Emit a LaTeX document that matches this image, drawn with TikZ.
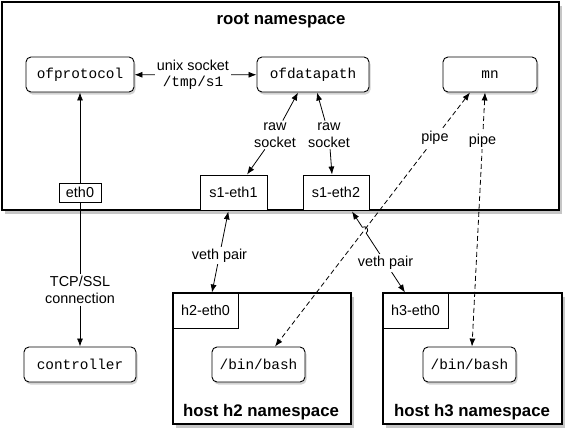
\documentclass[tikz,border=0pt]{standalone}
\usepackage{fontspec}
\setmainfont{Liberation Sans}
\setmonofont{Liberation Mono}
\usetikzlibrary{arrows.meta,shadows,calc}

\begin{document}
\begin{tikzpicture}[x=1pt,y=-1pt,
    >={Latex[length=8pt,width=6pt]},
    every node/.style={font=\fontsize{14.4}{16.5}\selectfont},
    proc/.style={draw,line width=0.9pt,rounded corners=5pt,fill=white,inner sep=0pt,minimum height=35pt,
      font=\ttfamily\fontsize{14.4}{16.5}\selectfont,
      drop shadow={shadow xshift=1.5pt,shadow yshift=-2.5pt,opacity=.35}},
    iface/.style={draw,line width=0.9pt,fill=white,inner sep=0pt,minimum height=35pt},
    nsbox/.style={draw,line width=1.6pt,fill=white,inner sep=0pt,
      drop shadow={shadow xshift=3pt,shadow yshift=-3.5pt,opacity=.45}},
    title/.style={font=\bfseries\fontsize{16.8}{20}\selectfont},
    lbl/.style={align=center,inner sep=2pt},
    conn/.style={line width=0.8pt},
    pipe/.style={conn,dash pattern=on 5pt off 3pt}]
  \useasboundingbox (0,0) rectangle (568,439);

  \node[nsbox,minimum width=557pt,minimum height=208pt] (root) at (280.5,106) {};
  \node[title] (roottitle) at (281,21) {root namespace};
  \node[proc,minimum width=108pt] (ofproto) at (80,74.5) {ofprotocol};
  \node[proc,minimum width=112pt] (ofdp) at (313,74.5) {ofdatapath};
  \node[proc,minimum width=94pt] (mn) at (490,74.5) {mn};
  \node[iface,minimum width=42pt,minimum height=19pt] (eth0) at (80,192.5) {eth0};
  \node[iface,minimum width=67pt] (s1e1) at (233.5,192.5) {s1-eth1};
  \node[iface,minimum width=66pt] (s1e2) at (336,192.5) {s1-eth2};
  \node[proc,minimum width=112pt] (ctrl) at (80,364.5) {controller};

  \node[nsbox,minimum width=178pt,minimum height=131pt] (h2) at (262,358.5) {};
  \node[iface,minimum width=65pt] (h2e0) at (205.5,310.5) {h2-eth0};
  \node[proc,minimum width=93pt] (bash2) at (258.5,364.5) {/bin/bash};
  \node[title] (h2title) at (261,412) {host h2 namespace};

  \node[nsbox,minimum width=179pt,minimum height=131pt] (h3) at (472.5,358.5) {};
  \node[iface,minimum width=65pt] (h3e0) at (415.5,310.5) {h3-eth0};
  \node[proc,minimum width=93pt] (bash3) at (469.5,364.5) {/bin/bash};
  \node[title] (h3title) at (472,412) {host h3 namespace};

  \node[lbl] (unix) at (193,75) {unix socket\\\texttt{/tmp/s1}};
  \draw[conn,->] (unix) -- (ofproto);
  \draw[conn,->] (unix) -- (ofdp);

  \node[lbl] (raw1) at (275,135) {raw\\socket};
  \node[lbl] (raw2) at (329,135) {raw\\socket};
  \draw[conn,->] (raw1) -- ([xshift=-15pt]ofdp.south);
  \draw[conn,->] (raw1) -- ([xshift=13.5pt]s1e1.north);
  \draw[conn,->] (raw2) -- ([xshift=4pt]ofdp.south);
  \draw[conn,->] (raw2) -- ([xshift=-4pt]s1e2.north);

  \node[lbl,fill=white] (tcp) at (80,290) {TCP/SSL\\connection};
  \draw[conn,->] (eth0) -- (ofproto);
  \draw[conn] (eth0) -- (tcp);
  \draw[conn,->] (tcp) -- (ctrl);

  \draw[conn,<->,shorten <=1pt] ([xshift=-5pt]s1e1.south) -- node[lbl,fill=white,pos=.55] (veth1) {veth pair} ([xshift=6.5pt]h2e0.north);

  \coordinate (p1a) at ([xshift=-20pt]mn.south);
  \coordinate (p1b) at ([xshift=16.5pt]bash2.north);
  \coordinate (v2a) at ([xshift=16pt,yshift=-1pt]s1e2.south);
  \coordinate (v2b) at ([xshift=-10.5pt]h3e0.north);
  \coordinate (hop) at (intersection of v2a--v2b and p1a--p1b);

  \draw[pipe,<->] (p1a) -- node[lbl,fill=white,pos=.18] (pipe1) {pipe} (p1b);
  \draw[pipe,<->] ([xshift=-5pt]mn.south) -- node[lbl,fill=white,pos=.19] (pipe2) {pipe} ([xshift=2.5pt]bash3.north);

  \draw[conn,<->] let \p1=($(v2b)-(v2a)$), \n1={atan2(\y1,\x1)} in
    (v2a) -- ($(hop)!3.5pt!(v2a)$) arc[start angle=\n1+180,end angle=\n1,radius=3.5pt]
    -- node[lbl,fill=white] (veth2) {veth pair} (v2b);
\end{tikzpicture}
\end{document}
